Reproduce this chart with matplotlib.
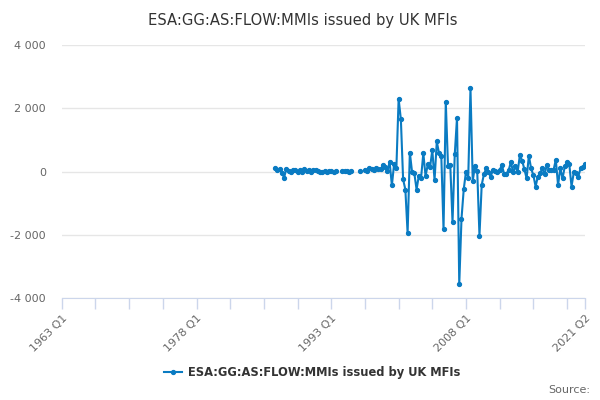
import matplotlib
matplotlib.use("Agg")
import matplotlib.pyplot as plt
import numpy as np

title = "ESA:GG:AS:FLOW:MMIs issued by UK MFIs"
series_name = "ESA:GG:AS:FLOW:MMIs issued by UK MFIs"

# categories: quarters 1963 Q1 .. 2021 Q2
first_year = 1963
n_quarters = 234
categories = [f"{first_year + i // 4} Q{i % 4 + 1}" for i in range(n_quarters)]

# data starts at 1986 Q4 (index 95); None = missing
data_start = 95
values = [
    # 1986 Q4 - 1993 Q3
    110, 60, 80, -40, -190, 80, 20, -30, 60, 40, -20, 50, 0, 70, 30, 60,
    -10, 40, 50, 20, 0, -20, 10, 0, 20, 10, 0, 10,
    None, None,
    20, 10, 30, 0, 10,
    None, None, None,
    10,
    None,
    60, 30, 110, 80, 40, 120, 90,
    70, 200, 150, 30, 290, -440, 250, 110, 2300, 1650,
    -250, -570, -1950, 600, -30, -60, -570, -130, -200, 580,
    -150, 230, 130, 680, -270, 950, 570, 500, -1830, 2200,
    160, 200, -1600, 550, 1700, -3570, -1490, -560, 0, -190,
    2630, -300, 180, 20, -2030, -420, -85, 95, -30, -160,
    50, 20, -10, 50, 200, -85, -65, 40, 300, -30,
    160, -10, 520, 340, 75, -220, 500, 95, -115, -475,
    -160, -55, 95, -85, 200, 50, 50, 50, 370, -430,
    95, -220, 160, 285, 230, -475, -30, -55, -160, 95,
    130, 230,
]

y_ticks = [-4000, -2000, 0, 2000, 4000]

def fmt(v):
    s = f"{abs(v):,}".replace(",", " ")
    return ("-" if v < 0 else "") + s

x = np.arange(data_start, data_start + len(values))
y = np.array([np.nan if v is None else v for v in values], dtype=float)

color = "#0a7bc2"
fig = plt.figure(figsize=(6, 4), dpi=100)
ax = fig.add_axes([0.103, 0.255, 0.872, 0.6325])

ax.plot(x, y, color=color, lw=1.5, marker="o", ms=2.8, label=series_name, zorder=3)

ax.set_xlim(0, n_quarters - 1)
ax.set_ylim(-4000, 4000)
ax.set_yticks(y_ticks)
ax.set_yticklabels([fmt(v) for v in y_ticks])
ax.yaxis.grid(True, color="#e6e6e6", lw=1)
ax.set_axisbelow(True)
ax.tick_params(axis="y", length=0, pad=11.5, labelsize=8, labelcolor="#666666")

major = [0, 60, 120, 180, n_quarters - 1]
minor = [i for i in range(15, n_quarters, 15) if i not in major]
ax.set_xticks(major)
ax.set_xticks(minor, minor=True)
ax.tick_params(axis="x", which="both", length=8, color="#ccd6eb", width=1, pad=3,
               labelsize=8, labelcolor="#666666")
ax.set_xticklabels([categories[i] for i in major])
for lab in ax.get_xticklabels():
    lab.set_rotation(45)
    lab.set_ha("right")
    lab.set_va("top")
    lab.set_rotation_mode("anchor")

for s in ["top", "right", "left"]:
    ax.spines[s].set_visible(False)
ax.spines["bottom"].set_color("#ccd6eb")

fig.text(0.505, 0.948, title, ha="center", va="center", fontsize=10.6, color="#333333")

leg = fig.legend(loc="center", bbox_to_anchor=(0.52, 0.068), frameon=False,
                 prop={"weight": "bold", "size": 8.3}, handlelength=1.6, handletextpad=0.5)
for t in leg.get_texts():
    t.set_color("#333333")

fig.text(0.983, 0.025, "Source:", ha="right", va="center", fontsize=8, color="#666666")

fig.savefig("out.png", dpi=100)
